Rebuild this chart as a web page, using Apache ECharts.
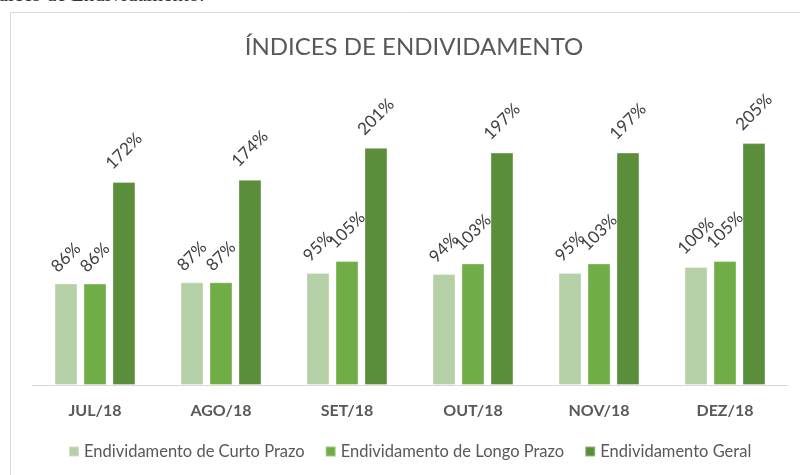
<!DOCTYPE html>
<html>
<head>
<meta charset="utf-8">
<script src="https://cdn.jsdelivr.net/npm/echarts@6/dist/echarts.min.js"></script>
<style>
  html, body { margin: 0; padding: 0; background: #fff; }
  #grafica { width: 800px; height: 475px; }
</style>
</head>
<body>
<div id="grafica"></div>
<script>
var meses = ["JUL/18", "AGO/18", "SET/18", "OUT/18", "NOV/18", "DEZ/18"];
var curtoPrazo = [86, 87, 95, 94, 95, 100];
var longoPrazo = [86, 87, 105, 103, 103, 105];
var geral = [172, 174, 201, 197, 197, 205];

var colores = {
  curto: "#b5d0a7",
  longo: "#70ad47",
  geral: "#5b8e3a",
  texto: "#595959",
  etiqueta: "#404040",
  borde: "#d9d9d9"
};

function serie(nombre, datos, color) {
  return {
    name: nombre,
    type: "bar",
    barWidth: 23,
    barGap: "26%",
    data: datos.map(function (v) {
      // etiquetas largas (100%+) quedan un poco mas arriba
      return { value: v, label: { distance: String(v).length > 2 ? 31 : 26 } };
    }),
    itemStyle: { color: color, borderColor: "rgba(255,255,255,0.35)", borderWidth: 1 },
    label: {
      show: true,
      position: "top",
      rotate: 45,
      align: "center",
      verticalAlign: "middle",
      formatter: "{c}%",
      fontFamily: "Lato",
      fontSize: 17,
      color: colores.etiqueta
    }
  };
}

var chart = echarts.init(document.getElementById("grafica"));
chart.setOption({
  animation: false,
  title: {
    text: "ÍNDICES DE ENDIVIDAMENTO",
    left: 409,
    top: 30,
    textAlign: "center",
    textStyle: { fontFamily: "Lato", fontWeight: "normal", fontSize: 24, color: colores.texto }
  },
  graphic: [
    {
      type: "rect",
      shape: { x: 10.5, y: 12.5, width: 820, height: 500 },
      style: { fill: "none", stroke: colores.borde, lineWidth: 1 },
      silent: true
    },
    {
      type: "text",
      left: -20,
      top: -15,
      style: { text: "Índices de Endividamento.", font: "21px 'Liberation Serif'", fill: "#333" },
      silent: true
    }
  ],
  legend: {
    bottom: 10,
    left: 63,
    itemWidth: 10,
    itemHeight: 10,
    itemGap: 20,
    icon: "rect",
    textStyle: { fontFamily: "Lato", fontSize: 16.5, color: colores.texto }
  },
  grid: { left: 32, right: 12, top: 90, bottom: 90 },
  xAxis: {
    type: "category",
    data: meses,
    axisLine: { lineStyle: { color: colores.borde, width: 1 } },
    axisTick: { show: false },
    axisLabel: {
      margin: 18,
      fontFamily: "Lato",
      fontWeight: "bold",
      fontSize: 16,
      color: colores.texto
    }
  },
  yAxis: { type: "value", min: 0, max: 250, show: false, splitLine: { show: false } },
  series: [
    serie("Endividamento de Curto Prazo", curtoPrazo, colores.curto),
    serie("Endividamento de Longo Prazo", longoPrazo, colores.longo),
    serie("Endividamento Geral", geral, colores.geral)
  ]
});
</script>
</body>
</html>
